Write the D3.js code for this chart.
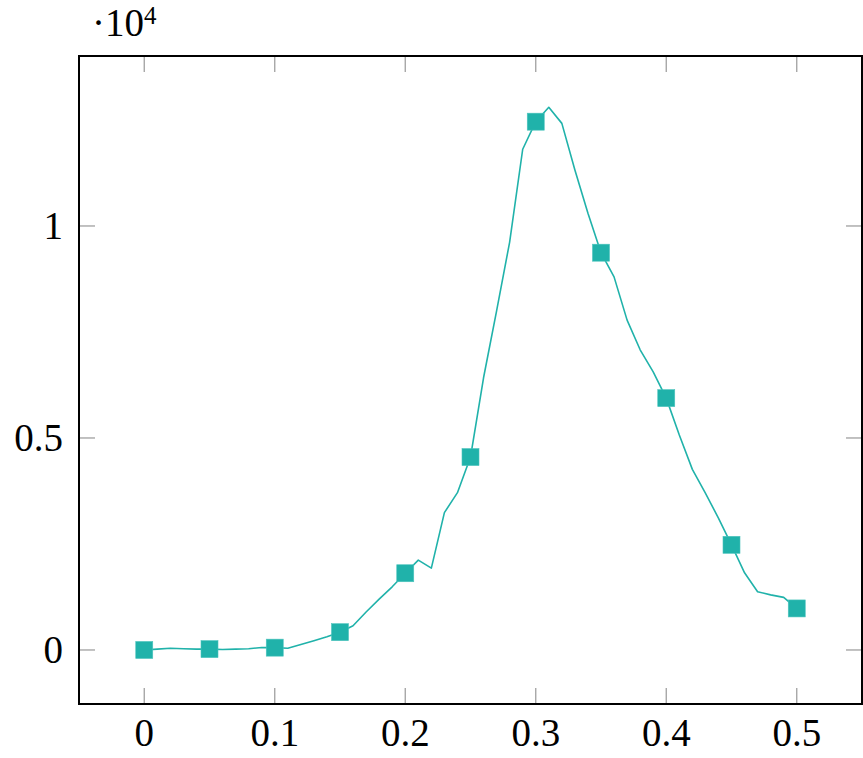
<!DOCTYPE html>
<html>
<head>
<meta charset="utf-8">
<script src="https://cdn.jsdelivr.net/npm/d3@7"></script>
<style>
  body { margin: 0; background: #fff; }
  svg { display: block; }
  text { font-family: "Liberation Serif", "DejaVu Serif", serif; fill: #000; }
</style>
</head>
<body>
<svg id="chart" width="863" height="758"></svg>
<script>
// ---- data ----
const xValues = [0.00,0.01,0.02,0.03,0.04,0.05,0.06,0.07,0.08,0.09,
                 0.10,0.11,0.12,0.13,0.14,0.15,0.16,0.17,0.18,0.19,
                 0.20,0.21,0.22,0.23,0.24,0.25,0.26,0.27,0.28,0.29,
                 0.30,0.31,0.32,0.33,0.34,0.35,0.36,0.37,0.38,0.39,
                 0.40,0.41,0.42,0.43,0.44,0.45,0.46,0.47,0.48,0.49,0.50];
const yValues = [0,20,40,30,20,20,10,20,30,60,
                 55,40,130,220,310,420,570,896,1200,1490,
                 1810,2120,1930,3240,3710,4550,6420,8000,9620,11810,
                 12460,12800,12420,11320,10300,9370,8800,7780,7080,6560,
                 5940,5070,4260,3700,3110,2480,1820,1375,1300,1240,980];
const markerX = [0,0.05,0.1,0.15,0.2,0.25,0.3,0.35,0.4,0.45,0.5];
const xTicks = [0,0.1,0.2,0.3,0.4,0.5];
const xTickLabels = ["0","0.1","0.2","0.3","0.4","0.5"];
const yTicks = [0,5000,10000];
const yTickLabels = ["0","0.5","1"];
const color = "#20B2AA";

// ---- layout ----
const L = 79, R = 862, T = 56, B = 704;
const svg = d3.select("#chart");
const x = d3.scaleLinear().domain([-0.05, 0.55]).range([L, R]);
const y = d3.scaleLinear().domain([-1274, 14009]).range([B, T]);

const data = xValues.map((v, i) => ({x: v, y: yValues[i]}));
const markers = data.filter(d => markerX.some(m => Math.abs(m - d.x) < 1e-9));

// ticks (gray, inside, on all four sides)
const tickLen = 16;
const tickG = svg.append("g").attr("stroke", "#a0a0a0").attr("stroke-width", 1.3);
xTicks.forEach(t => {
  tickG.append("line").attr("x1", x(t)).attr("x2", x(t)).attr("y1", B).attr("y2", B - tickLen);
  tickG.append("line").attr("x1", x(t)).attr("x2", x(t)).attr("y1", T).attr("y2", T + tickLen);
});
yTicks.forEach(t => {
  tickG.append("line").attr("y1", y(t)).attr("y2", y(t)).attr("x1", L).attr("x2", L + tickLen);
  tickG.append("line").attr("y1", y(t)).attr("y2", y(t)).attr("x1", R).attr("x2", R - tickLen);
});

// line
const line = d3.line().x(d => x(d.x)).y(d => y(d.y));
svg.append("path").datum(data)
  .attr("d", line)
  .attr("fill", "none")
  .attr("stroke", color)
  .attr("stroke-width", 1.6)
  .attr("stroke-linejoin", "round");

// markers
const ms = 17;
svg.append("g").selectAll("rect").data(markers).join("rect")
  .attr("x", d => x(d.x) - ms / 2)
  .attr("y", d => y(d.y) - ms / 2)
  .attr("width", ms).attr("height", ms)
  .attr("fill", color)
  .attr("stroke", "#4cc4bd").attr("stroke-width", 0.6);

// frame
svg.append("rect").attr("x", L).attr("y", T).attr("width", R - L).attr("height", B - T)
  .attr("fill", "none").attr("stroke", "#000").attr("stroke-width", 2);

// tick labels
const fs = 39;
svg.append("g").selectAll("text").data(xTicks).join("text")
  .attr("x", d => x(d)).attr("y", 746)
  .attr("text-anchor", "middle")
  .attr("font-size", fs)
  .text((d, i) => xTickLabels[i]);

svg.append("g").selectAll("text").data(yTicks).join("text")
  .attr("x", 63).attr("y", d => y(d) + 13)
  .attr("text-anchor", "end")
  .attr("font-size", fs)
  .text((d, i) => yTickLabels[i]);

// scale label ·10^4
const sc = svg.append("text").attr("x", 92).attr("y", 36).attr("font-size", fs);
sc.append("tspan").text("·10");
sc.append("tspan").attr("font-size", 25).attr("dy", -12).text("4");
</script>
</body>
</html>
